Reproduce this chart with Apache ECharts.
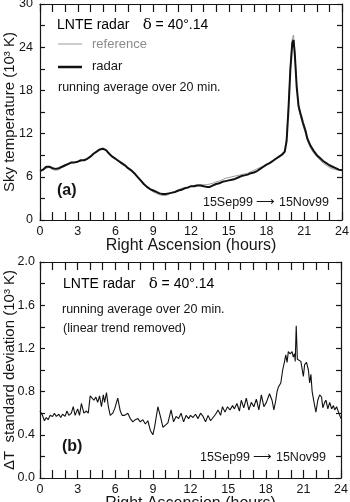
<!DOCTYPE html>
<html>
<head>
<meta charset="utf-8">
<script src="https://cdn.jsdelivr.net/npm/echarts@6/dist/echarts.min.js"></script>
<style>
html,body{margin:0;padding:0;background:#fff;}
#chart{width:350px;height:502px;}
</style>
</head>
<body>
<div id="chart"></div>
<script>
// ---- Panel (a): sky temperature (10^3 K) vs right ascension (hours)
var hoursA = [0,0.25,0.5,0.75,1,1.25,1.5,1.75,2,2.25,2.5,2.75,3,3.25,3.5,3.75,4,4.25,4.5,4.75,5,5.25,5.5,5.75,6,6.25,6.5,6.75,7,7.25,7.5,7.75,8,8.25,8.5,8.75,9,9.25,9.5,9.75,10,10.25,10.5,10.75,11,11.25,11.5,11.75,12,12.25,12.5,12.75,13,13.25,13.5,13.75,14,14.25,14.5,14.75,15,15.25,15.5,15.75,16,16.25,16.5,16.75,17,17.25,17.5,17.75,18,18.25,18.5,18.75,19,19.25,19.45,19.6,19.75,19.9,20.05,20.15,20.25,20.4,20.55,20.7,20.9,21.1,21.25,21.5,21.75,22,22.25,22.5,22.75,23,23.25,23.5,23.75,24];
var radarTemp = [6.8,7.0,7.4,7.4,7.2,7.1,7.2,7.4,7.6,7.8,8.0,8.0,8.1,8.3,8.3,8.5,8.8,9.2,9.5,9.8,9.9,9.7,9.2,8.8,8.5,8.2,7.9,7.6,7.2,6.9,6.5,6.0,5.5,5.0,4.6,4.3,4.1,3.9,3.7,3.6,3.6,3.7,3.8,3.9,4.1,4.2,4.4,4.5,4.7,4.7,4.8,4.8,4.7,4.6,4.6,4.8,5.0,5.1,5.3,5.4,5.5,5.6,5.7,5.9,6.1,6.2,6.3,6.5,6.6,6.8,7.1,7.4,7.7,7.9,8.2,8.5,8.8,9.1,9.5,11.0,15.5,21.0,24.6,25.0,23.0,18.5,15.8,14.8,13.5,12.4,11.3,10.3,9.6,9.0,8.6,8.2,7.9,7.6,7.4,7.2,7.0,6.9];
var referenceTemp = [6.9,6.9,7.2,7.3,7.0,6.9,7.0,7.3,7.5,7.7,7.9,8.0,8.1,8.2,8.3,8.4,8.7,9.1,9.5,9.8,10.0,9.7,9.2,8.7,8.4,8.1,7.7,7.5,7.2,6.8,6.3,5.9,5.4,4.9,4.5,4.2,3.9,3.7,3.5,3.4,3.4,3.6,3.8,4.0,4.2,4.4,4.5,4.6,4.7,4.8,4.9,4.9,4.9,4.9,5.0,5.1,5.3,5.4,5.6,5.8,5.9,6.0,6.1,6.2,6.3,6.4,6.5,6.7,6.9,7.1,7.3,7.5,7.7,8.0,8.3,8.6,8.9,9.2,9.6,11.5,16.0,21.5,25.2,25.7,23.5,18.5,15.5,14.4,13.1,12.0,11.0,10.0,9.3,8.8,8.3,7.9,7.6,7.3,7.1,7.0,6.9,6.9];

// ---- Panel (b): standard deviation (10^3 K)
var hoursB = [0,0.2,0.35,0.5,0.65,0.8,1.0,1.15,1.3,1.5,1.65,1.8,2.0,2.15,2.3,2.5,2.65,2.8,3.0,3.15,3.3,3.5,3.7,3.85,4.0,4.15,4.3,4.45,4.6,4.75,4.9,5.05,5.15,5.3,5.45,5.6,5.8,5.95,6.2,6.4,6.55,6.75,7.0,7.2,7.4,7.6,7.8,8.0,8.2,8.4,8.6,8.8,9.0,9.15,9.4,9.6,9.8,10.0,10.2,10.45,10.65,10.85,11.05,11.25,11.45,11.65,11.85,12.0,12.2,12.4,12.6,12.8,13.0,13.2,13.4,13.6,13.8,14.0,14.2,14.4,14.55,14.75,14.95,15.15,15.35,15.5,15.7,15.9,16.05,16.25,16.45,16.65,16.85,17.05,17.25,17.45,17.65,17.85,18.05,18.3,18.5,18.65,18.8,18.9,19.0,19.2,19.35,19.5,19.6,19.7,19.8,19.95,20.1,20.2,20.3,20.35,20.43,20.52,20.65,20.8,20.9,21.0,21.1,21.25,21.4,21.5,21.6,21.7,21.85,22.0,22.15,22.3,22.45,22.55,22.7,22.8,22.95,23.1,23.25,23.4,23.5,23.65,23.8,23.9,24.0];
var stdDev = [0.62,0.58,0.53,0.56,0.54,0.58,0.57,0.60,0.57,0.59,0.56,0.59,0.57,0.62,0.58,0.60,0.66,0.58,0.64,0.58,0.69,0.60,0.62,0.60,0.76,0.77,0.72,0.75,0.70,0.76,0.66,0.77,0.70,0.79,0.66,0.58,0.60,0.64,0.74,0.62,0.58,0.58,0.60,0.55,0.52,0.54,0.55,0.52,0.54,0.50,0.53,0.44,0.40,0.48,0.66,0.57,0.47,0.49,0.51,0.63,0.52,0.57,0.55,0.60,0.52,0.58,0.55,0.58,0.56,0.59,0.55,0.60,0.57,0.52,0.58,0.53,0.56,0.59,0.63,0.58,0.66,0.61,0.66,0.63,0.67,0.64,0.69,0.62,0.72,0.65,0.74,0.63,0.70,0.66,0.73,0.63,0.77,0.66,0.70,0.78,0.72,0.63,0.72,0.80,0.84,0.88,1.00,1.08,1.14,1.07,1.17,1.15,1.17,1.12,1.15,1.08,1.41,1.10,1.09,1.08,1.09,0.94,1.05,1.07,1.00,0.88,0.96,0.80,0.70,0.61,0.72,0.77,0.75,0.65,0.70,0.72,0.64,0.70,0.64,0.67,0.63,0.66,0.61,0.60,0.55];

// tick settings
var xTicksA = {min:0, max:24, interval:3, minorSplit:3};
var yTicksA = {min:0, max:30, interval:6, minorSplit:2};
var yTicksB = {min:0, max:2.0, interval:0.4, minorSplit:2};

function pairs(xs, ys){ return xs.map(function(x,i){ return [x, ys[i]]; }); }

var FONT = 'Liberation Sans, Arial, sans-serif';
var INK = '#151515';

function xAx(grid, pos, showLabel, name){
  return {
    type:'value', gridIndex:grid, position:pos,
    min:xTicksA.min, max:xTicksA.max, interval:xTicksA.interval,
    axisLine:{show:true, onZero:false, lineStyle:{color:INK, width:1.2}},
    axisTick:{show:true, inside:true, length:8, lineStyle:{color:INK, width:1.2}},
    minorTick:{show:true, splitNumber:xTicksA.minorSplit, length:8, lineStyle:{color:INK, width:1.2}},
    splitLine:{show:false}, minorSplitLine:{show:false},
    axisLabel:{show:showLabel, fontSize:12.5, color:INK, fontFamily:FONT, margin:5},
    name: name || '', nameLocation:'middle', nameGap:18, nameMoveOverlap:false,
    nameTextStyle:{fontSize:16, color:INK, fontFamily:FONT}
  };
}
function yAx(grid, pos, showLabel, t, name, fmt, margin){
  return {
    type:'value', gridIndex:grid, position:pos,
    min:t.min, max:t.max, interval:t.interval,
    axisLine:{show:true, onZero:false, lineStyle:{color:INK, width:1.2}},
    axisTick:{show:true, inside:true, length:5, lineStyle:{color:INK, width:1.2}},
    minorTick:{show:true, splitNumber:t.minorSplit, length:5, lineStyle:{color:INK, width:1.2}},
    splitLine:{show:false}, minorSplitLine:{show:false},
    axisLabel:{show:showLabel, fontSize:12.5, color:INK, fontFamily:FONT, margin:margin || 7, formatter:fmt},
    name: name || '', nameLocation:'middle', nameGap:22.5, nameMoveOverlap:false,
    nameTextStyle:{fontSize:15, color:INK, fontFamily:FONT}
  };
}

var chart = echarts.init(document.getElementById('chart'), null, {renderer:'canvas'});

function txt(x, y, text, size, extra){
  var s = {text:text, x:x, y:y, fontSize:size, fontFamily:FONT, fill:INK, textVerticalAlign:'middle'};
  if (extra) for (var k in extra) s[k] = extra[k];
  return {type:'text', z:100, style:s};
}
function headline(x, y){
  return {type:'text', z:100, style:{
    x:x, y:y, textVerticalAlign:'middle',
    text:'{a|LNTE radar}    {d|δ}{a| = 40°.14}',
    rich:{a:{fontSize:14, fontFamily:FONT, color:INK}, d:{fontSize:15, fontFamily:'DejaVu Serif, Liberation Serif, serif', color:INK}}
  }};
}
function keyLine(x1, y, x2, color, w){
  return {type:'line', z:100, shape:{x1:x1, y1:y, x2:x2, y2:y}, style:{stroke:color, lineWidth:w}};
}

chart.setOption({
  animation:false,
  backgroundColor:'#fff',
  grid:[
    {left:40, top:4, width:302, height:216, outerBoundsMode:'none', containLabel:false},
    {left:40, top:262, width:301, height:216, outerBoundsMode:'none', containLabel:false}
  ],
  xAxis:[
    xAx(0,'bottom',true,'Right Ascension (hours)'),
    xAx(0,'top',false),
    xAx(1,'bottom',true,'Right Ascension (hours)'),
    xAx(1,'top',false)
  ],
  yAxis:[
    yAx(0,'left',true,yTicksA,'Sky temperature (10³ K)', function(v){return String(v);}, 7),
    yAx(0,'right',false,yTicksA),
    yAx(1,'left',true,yTicksB,'ΔT  standard deviation (10³ K)', function(v){return v.toFixed(1);}, 5),
    yAx(1,'right',false,yTicksB)
  ],
  series:[
    {name:'reference', type:'line', xAxisIndex:0, yAxisIndex:0, data:pairs(hoursA, referenceTemp),
     symbol:'none', lineStyle:{color:'#9a9a9a', width:1}, itemStyle:{color:'#9a9a9a'}, z:2},
    {name:'radar', type:'line', xAxisIndex:0, yAxisIndex:0, data:pairs(hoursA, radarTemp),
     symbol:'none', lineStyle:{color:'#111', width:2}, itemStyle:{color:'#111'}, z:3},
    {name:'std', type:'line', xAxisIndex:2, yAxisIndex:2, data:pairs(hoursB, stdDev),
     symbol:'none', lineStyle:{color:'#111', width:1.1}, itemStyle:{color:'#111'}, z:3}
  ],
  graphic:[
    headline(57, 25),
    keyLine(58, 44, 82, '#9a9a9a', 1),
    txt(92, 44, 'reference', 13, {fill:'#8a8a8a'}),
    keyLine(58, 67, 82, '#111', 2.5),
    txt(92, 66, 'radar', 13),
    txt(58, 88, 'running average over 20 min.', 12.5),
    txt(57, 191, '(a)', 16, {fontWeight:'bold'}),
    txt(329, 203, '15Sep99 ⟶ 15Nov99', 12.5, {textAlign:'right'}),
    headline(63, 284),
    txt(62, 310, 'running average over 20 min.', 12.5),
    txt(63, 329, '(linear trend removed)', 12.5),
    txt(62, 447, '(b)', 16, {fontWeight:'bold'}),
    txt(326, 458, '15Sep99 ⟶ 15Nov99', 12.5, {textAlign:'right'})
  ]
});
</script>
</body>
</html>
